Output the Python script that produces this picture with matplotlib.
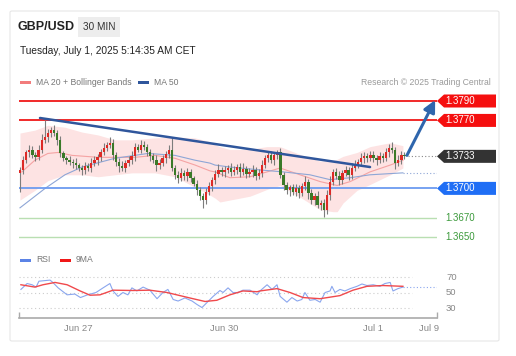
import matplotlib
matplotlib.use("Agg")
import matplotlib.pyplot as plt
import matplotlib.transforms as mtransforms
from matplotlib.patches import Polygon, Rectangle, FancyBboxPatch

plt.rcParams["font.family"] = ["Liberation Sans", "DejaVu Sans"]

# ---- data ----
closes = [
    1.3719, 1.3729, 1.3737, 1.3740, 1.3734, 1.3732, 1.3740, 1.3750, 1.3753, 1.3757,
    1.3760, 1.3757, 1.3750, 1.3736, 1.3731, 1.3729, 1.3727, 1.3726, 1.3724, 1.3721,
    1.3719, 1.3723, 1.3721, 1.3726, 1.3729, 1.3732, 1.3737, 1.3742, 1.3745, 1.3747,
    1.3734, 1.3727, 1.3723, 1.3721, 1.3726, 1.3729, 1.3733, 1.3743, 1.3740, 1.3745,
    1.3743, 1.3737, 1.3733, 1.3729, 1.3724, 1.3726, 1.3731, 1.3735, 1.3740, 1.3721,
    1.3714, 1.3711, 1.3716, 1.3713, 1.3717, 1.3711, 1.3705, 1.3698, 1.3692, 1.3688,
    1.3696, 1.3702, 1.3709, 1.3715, 1.3719, 1.3717, 1.3719, 1.3721, 1.3717, 1.3719,
    1.3722, 1.3717, 1.3720, 1.3715, 1.3717, 1.3719, 1.3713, 1.3716, 1.3724, 1.3731,
    1.3734, 1.3729, 1.3734, 1.3737, 1.3714, 1.3703, 1.3698, 1.3701, 1.3696, 1.3700,
    1.3695, 1.3702, 1.3707, 1.3695, 1.3688, 1.3692, 1.3683, 1.3685, 1.3678, 1.3693,
    1.3707, 1.3717, 1.3713, 1.3709, 1.3716, 1.3719, 1.3714, 1.3721, 1.3725, 1.3727,
    1.3731, 1.3733, 1.3731, 1.3734, 1.3731, 1.3729, 1.3733, 1.3731, 1.3737, 1.3742,
    1.3740, 1.3726, 1.3729, 1.3734, 1.3733,
]
first_open = 1.3716
# wick lengths in pips
upper_wick = [
    3, 4, 3, 5, 4, 3, 5, 6, 17, 4,
    3, 5, 3, 4, 3, 2, 4, 3, 5, 2,
    3, 4, 3, 5, 4, 3, 4, 5, 3, 6,
    4, 3, 4, 5, 3, 4, 6, 4, 3, 5,
    4, 3, 4, 3, 5, 4, 3, 4, 5, 12,
    3, 4, 5, 3, 4, 3, 2, 4, 3, 3,
    4, 5, 3, 4, 6, 3, 4, 3, 5, 4,
    3, 4, 6, 3, 4, 5, 3, 4, 5, 3,
    5, 4, 3, 3, 5, 3, 4, 3, 4, 5,
    3, 4, 6, 3, 4, 3, 5, 3, 4, 5,
    6, 3, 4, 5, 3, 4, 3, 5, 4, 3,
    5, 4, 3, 4, 5, 3, 4, 3, 5, 4,
    6, 3, 5, 4, 3,
]
lower_wick = [
    20, 4, 3, 5, 3, 4, 3, 4, 3, 5,
    4, 3, 5, 4, 3, 4, 3, 5, 4, 3,
    5, 4, 3, 4, 3, 5, 4, 3, 4, 3,
    5, 4, 6, 3, 4, 3, 4, 5, 3, 4,
    3, 4, 5, 3, 6, 4, 3, 5, 4, 3,
    4, 5, 3, 4, 5, 4, 3, 5, 4, 8,
    4, 3, 5, 4, 3, 4, 5, 3, 4, 3,
    4, 5, 3, 4, 3, 5, 4, 3, 4, 3,
    4, 3, 5, 4, 3, 5, 4, 6, 3, 4,
    5, 3, 4, 6, 4, 5, 3, 5, 7, 4,
    5, 4, 3, 5, 4, 3, 5, 4, 3, 4,
    3, 5, 4, 3, 4, 5, 3, 4, 3, 5,
    4, 6, 3, 4, 3,
]

ma20_idx = [0.6, 4.8, 9.0, 12.3, 16.8, 25.2, 30.6, 37.1, 43.5, 50.0, 56.5, 61.3, 62.9,
            67.7, 74.2, 79.7, 83.9, 90.3, 96.8, 102.3, 106.5, 112.9, 119.4, 123.5]
ma20_val = [1.3717, 1.3729, 1.3736, 1.3737, 1.3734, 1.3732, 1.3732, 1.3732, 1.3734, 1.3731,
            1.3724, 1.3718, 1.3717, 1.3711, 1.3712, 1.3717, 1.3721, 1.3714, 1.3707, 1.3703,
            1.3707, 1.3717, 1.3724, 1.3729]
bb_idx = [0.0, 4.8, 9.0, 14.5, 20.0, 25.2, 30.6, 36.1, 43.5, 50.0, 56.5, 61.3, 62.9,
          64.5, 67.7, 71.0, 74.2, 77.4, 79.7, 83.9, 90.3, 96.8, 101.0, 102.3, 104.2,
          108.7, 112.9, 116.1, 119.4, 123.5]
bb_upper = [1.3757, 1.3760, 1.3765, 1.3763, 1.3758, 1.3755, 1.3750, 1.3750, 1.3752, 1.3753,
            1.3752, 1.3748, 1.3745, 1.3743, 1.3740, 1.3740, 1.3740, 1.3742, 1.3743, 1.3743,
            1.3735, 1.3728, 1.3729, 1.3730, 1.3733, 1.3737, 1.3743, 1.3745, 1.3747, 1.3744]
bb_lower = [1.3688, 1.3698, 1.3708, 1.3714, 1.3714, 1.3712, 1.3714, 1.3716, 1.3716, 1.3712,
            1.3701, 1.3693, 1.3690, 1.3686, 1.3688, 1.3690, 1.3692, 1.3696, 1.3699, 1.3703,
            1.3691, 1.3678, 1.3676, 1.3676, 1.3685, 1.3698, 1.3704, 1.3709, 1.3714, 1.3721]
ma50_idx = [0.0, 8.1, 14.5, 20.0, 30.6, 41.3, 50.0, 56.5, 61.3, 62.9, 67.7, 77.4, 84.8,
            93.5, 100.0, 106.5, 112.9, 123.5]
ma50_val = [1.3680, 1.3700, 1.3714, 1.3722, 1.3731, 1.3736, 1.3734, 1.3729, 1.3726, 1.3724,
            1.3722, 1.3719, 1.3717, 1.3714, 1.3709, 1.3711, 1.3714, 1.3716]

trend_idx = [6.45, 112.9]
trend_val = [1.37725, 1.3722]
arrow_from = (124.8, 1.3734)
arrow_to = (133.9, 1.3791)

resist = [1.3790, 1.3770]
support = [1.3670, 1.3650]
pivot = 1.3700
last_price = 1.3733

rsi_idx = [0.3, 2.3, 3.9, 5.2, 6.1, 9.7, 10.6, 12.3, 15.2, 17.7, 19.5, 21.8, 24.5, 26.8,
           29.0, 30.0, 31.6, 33.2, 34.8, 36.1, 37.7, 39.7, 41.9, 44.2, 46.1, 47.7, 49.4,
           51.0, 53.2, 55.5, 57.1, 58.7, 60.3, 62.3, 64.5, 65.5, 67.1, 68.7, 70.3, 71.9,
           74.2, 76.5, 77.4, 79.7, 81.3, 82.9, 83.9, 86.1, 87.7, 89.4, 90.9, 91.9, 93.5,
           95.2, 96.8, 98.4, 100.0, 100.6, 101.6, 103.2, 104.8, 106.5, 108.7, 110.3, 111.9,
           113.9, 116.1, 117.7, 119.4, 120.3, 121.9, 123.5]
rsi_val = [54, 61.6, 60, 57, 64.6, 66, 63, 56, 47, 48, 43.5, 47, 50, 56,
           61.6, 52, 45, 50, 47, 56, 52, 57, 53, 42, 50, 54, 41,
           39, 43, 39, 34.5, 30.6, 37, 45, 52.6, 50, 56, 50, 50, 53,
           53, 47, 52, 60, 54, 60, 45, 37.5, 43.5, 39, 41, 50, 40,
           41, 37.5, 50, 52, 58, 50, 54, 52, 55, 58, 61, 59,
           60, 58, 61.6, 63, 52, 55, 57]
ma9_idx = [0.3, 4.8, 7.4, 11.3, 15.2, 19.4, 22.6, 25.8, 30.0, 36.5, 41.9, 47.4, 51.6,
           55.8, 59.7, 63.5, 67.7, 71.9, 76.5, 77.4, 82.9, 87.1, 91.3, 96.8, 103.2,
           107.4, 111.9, 117.1, 123.5]
ma9_val = [60, 57, 60, 63, 60, 52, 46.5, 47, 53, 52.6, 53, 50, 46,
           42, 38.4, 40, 47, 52, 51, 52, 55, 50, 43.5, 42, 46,
           53, 58, 59, 58]
rsi_levels = [70, 50, 30]

tick_pos = [18.7, 65.8, 113.9, 132.0]
tick_labels = ["Jun 27", "Jun 30", "Jul 1", "Jul 9"]

# ---- figure ----
W, H = 516, 356
fig = plt.figure(figsize=(W / 100, H / 100), dpi=100)
fig.patch.set_facecolor("white")


def fx(px):
    return px / W


def fy(py):
    return 1 - py / H


# card
fig.patches.append(FancyBboxPatch((fx(10), fy(341)), fx(489), 330 / H,
                                  boxstyle="round,pad=0,rounding_size=0.004",
                                  transform=fig.transFigure, facecolor="none",
                                  edgecolor="#e6e6e6", linewidth=0.8, zorder=-5))

# header
fig.text(fx(18), fy(27), "GBP/USD", fontsize=9, fontweight="bold",
         color="#222222", va="center")
fig.patches.append(Rectangle((fx(78), fy(37)), fx(42), 20 / H, transform=fig.transFigure,
                             facecolor="#ededed", edgecolor="none", zorder=-4))
fig.text(fx(99), fy(27), "30 MIN", fontsize=7.2, color="#333333", va="center", ha="center")
fig.text(fx(20), fy(51), "Tuesday, July 1, 2025 5:14:35 AM CET", fontsize=7.3,
         color="#222222", va="center")

# legend main
fig.patches.append(Rectangle((fx(20), fy(84)), fx(11), 3 / H, transform=fig.transFigure,
                             facecolor="#f27c7c", edgecolor="none"))
fig.text(fx(36), fy(82.5), "MA 20 + Bollinger Bands", fontsize=6.2, color="#777777",
         va="center")
fig.patches.append(Rectangle((fx(138), fy(84)), fx(11), 3 / H, transform=fig.transFigure,
                             facecolor="#2f569c", edgecolor="none"))
fig.text(fx(154), fy(82.5), "MA 50", fontsize=6.2, color="#777777", va="center")
fig.text(fx(491), fy(82.5), "Research \u00a9 2025 Trading Central", fontsize=6.2,
         color="#999999", va="center", ha="right")

# ---- main price axes ----
ax = fig.add_axes([fx(19), fy(245), fx(418), 153 / H])
ax.set_xlim(-0.32, 134.5)
ax.set_ylim(1.36417, 1.379927)
ax.axis("off")

ax.fill_between(bb_idx, bb_lower, bb_upper, color="#fde3e3", linewidth=0, zorder=1)
ax.plot(ma20_idx, ma20_val, color="#f5a3a3", linewidth=0.8, zorder=2)
ax.plot(ma50_idx, ma50_val, color="#8ea6d6", linewidth=0.8, zorder=2)
ax.plot([ma50_idx[-1], 134.5], [ma50_val[-1], ma50_val[-1]], color="#8ea6d6",
        linewidth=0.8, linestyle=(0, (1, 2)), zorder=2)

for lvl in resist:
    ax.axhline(lvl, color="#f01818", linewidth=1.3, zorder=3)
ax.axhline(pivot, color="#6c9bf0", linewidth=1.3, zorder=3)
for lvl in support:
    ax.axhline(lvl, color="#b9dfb2", linewidth=1.0, zorder=3)
ax.plot([len(closes), 134.5], [last_price, last_price], color="#888888",
        linewidth=0.8, linestyle=(0, (1, 2)), zorder=3)

opens = [first_open] + closes[:-1]
for i, (o, c) in enumerate(zip(opens, closes)):
    hi = max(o, c) + upper_wick[i] * 0.0001
    lo = min(o, c) - lower_wick[i] * 0.0001
    col = "#dd2a26" if c >= o else "#3a7a28"
    ax.vlines(i, lo, hi, color="#7d7d7d", linewidth=0.8, zorder=4)
    body = max(abs(c - o), 0.0001)
    ax.add_patch(Rectangle((i - 0.38, min(o, c)), 0.76, body, facecolor=col,
                           edgecolor="none", zorder=5))

ax.plot(trend_idx, trend_val, color="#2f569c", linewidth=1.8, zorder=6,
        solid_capstyle="round")
ax.annotate("", xy=arrow_to, xytext=arrow_from, zorder=7,
            arrowprops=dict(arrowstyle="-|>,head_length=0.7,head_width=0.35",
                            color="#2f66ad", linewidth=2.2, shrinkA=0, shrinkB=0),
            annotation_clip=False)

# right-hand price tags
blend = mtransforms.blended_transform_factory(ax.transAxes, ax.transData)
half = 6.5 / 9710.0


def tag(price, face, text_color="white"):
    x0 = 0.0 / 418 + 1.0
    x1 = 7.0 / 418 + 1.0
    x2 = 59.0 / 418 + 1.0
    pts = [(x0, price), (x1, price + half), (x2, price + half),
           (x2, price - half), (x1, price - half)]
    if face is not None:
        ax.add_patch(Polygon(pts, closed=True, transform=blend, facecolor=face,
                             edgecolor="none", clip_on=False, zorder=8))
    ax.text(1.0 + 8.5 / 418, price, "%.4f" % price, transform=blend, color=text_color,
            fontsize=7, va="center", ha="left", clip_on=False, zorder=9)


for lvl in resist:
    tag(lvl, "#f50f0f")
tag(last_price, "#333333")
tag(pivot, "#1f6ef5")
for lvl in support:
    tag(lvl, None, text_color="#3c9a3c")

# ---- RSI axes ----
fig.patches.append(Rectangle((fx(20), fy(261.5)), fx(11), 3 / H, transform=fig.transFigure,
                             facecolor="#5b83e6", edgecolor="none"))
fig.text(fx(36), fy(260), "RSI", fontsize=6.2, color="#777777", va="center")
fig.patches.append(Rectangle((fx(60), fy(261.5)), fx(11), 3 / H, transform=fig.transFigure,
                             facecolor="#f01818", edgecolor="none"))
fig.text(fx(76), fy(260), "9MA", fontsize=6.2, color="#777777", va="center")

rx = fig.add_axes([fx(19), fy(318), fx(418), 53 / H])
rx.set_xlim(-0.32, 134.5)
rx.set_ylim(17.1, 85.5)
rx.patch.set_visible(False)
for s in ["top", "left", "right"]:
    rx.spines[s].set_visible(False)
rx.spines["bottom"].set_color("#aaaaaa")
rx.spines["bottom"].set_linewidth(1.2)
rx.set_yticks([])
for lvl in rsi_levels:
    rx.axhline(lvl, xmax=0.94, color="#cccccc", linewidth=0.8, linestyle=(0, (1, 2.5)))
    rx.text(1.0 + 9.0 / 418, lvl, str(lvl), transform=mtransforms.blended_transform_factory(
        rx.transAxes, rx.transData), fontsize=6.8, color="#888888", va="center",
        clip_on=False)
rx.plot(rsi_idx, rsi_val, color="#8aa6ee", linewidth=0.8)
rx.plot([rsi_idx[-1], 134.5], [rsi_val[-1], rsi_val[-1]], color="#8aa6ee",
        linewidth=0.8, linestyle=(0, (1, 2)))
rx.plot(ma9_idx, ma9_val, color="#f0494c", linewidth=1.0)
rx.set_xticks([-0.32, 134.5])
rx.set_xticklabels(["", ""])
rx.tick_params(axis="x", direction="in", length=4, color="#aaaaaa", width=1.0, pad=2)
for p, lab in zip(tick_pos, tick_labels):
    rx.text(p, 17.1 - 14, lab, fontsize=6.8, color="#888888", ha="center", va="center",
            clip_on=False)

fig.savefig("out.png", dpi=100, facecolor="white")
